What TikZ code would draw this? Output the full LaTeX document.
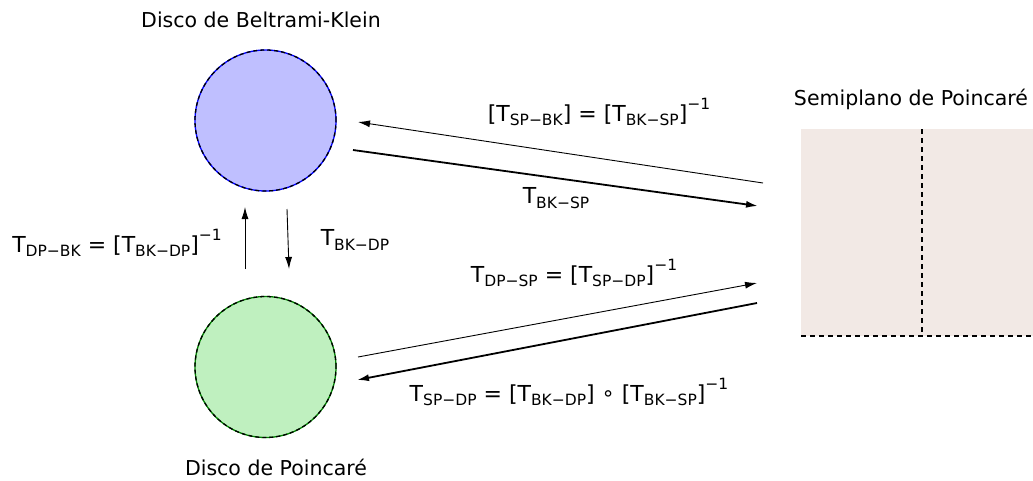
\documentclass[tikz,border=0pt]{standalone}
\usepackage{fontspec}
\setmainfont{DejaVu Sans}
\usetikzlibrary{arrows.meta}
\newcommand{\sbx}[1]{\raisebox{-0.35ex}{\fontsize{15.5}{16}\selectfont #1}}
\newcommand{\spx}[1]{\raisebox{1.0ex}{\fontsize{15.5}{16}\selectfont #1}}
\newcommand{\cmp}{\raisebox{0.05ex}{\fontsize{21}{21}\selectfont ∘}}
\definecolor{bkfill}{HTML}{BFBFFF}
\definecolor{dpfill}{HTML}{BFF0BF}
\definecolor{spfill}{HTML}{F2E9E5}
\begin{document}
\begin{tikzpicture}[x=1pt,y=-1pt,
  ttl/.style={font=\fontsize{20.5}{24}\selectfont, inner sep=0},
  lbl/.style={font=\fontsize{22}{26}\selectfont, inner sep=0},
  thinarr/.style={line width=0.9pt, -{Latex[length=12pt,width=7pt]}},
  thickarr/.style={line width=1.8pt, -{Latex[length=12pt,width=7pt]}},
  disc/.style={circle, minimum size=141pt, inner sep=0}]
\useasboundingbox (0,0) rectangle (1033,480);
% half plane
\fill[spfill] (801,129) rectangle (1033,336);
\node[inner sep=0, minimum width=232pt, minimum height=207pt] (sp) at (917,232.5) {};
\draw[line width=1.2pt, dash pattern=on 5pt off 4pt] (922,129) -- (922,336);
\draw[line width=1.2pt, dash pattern=on 5pt off 4pt] (801,336) -- (1033,336);
\node[ttl] (spt) at (911,99) {Semiplano de Poincaré};
% discs
\node[disc, fill=bkfill, draw=blue, line width=1.3pt] (bk) at (265.5,120.5) {};
\draw[line width=1.3pt, dash pattern=on 4pt off 3pt] (bk.center) circle (70.5pt);
\node[disc, fill=dpfill, draw=green!50!black, line width=1.3pt] (dp) at (265.5,367) {};
\draw[line width=1.3pt, dash pattern=on 4pt off 3pt] (dp.center) circle (70.5pt);
\node[ttl] (bkt) at (261,20) {Disco de Beltrami-Klein};
\node[ttl] (dpt) at (276,467) {Disco de Poincaré};
% connector end points
\coordinate (a1s) at (763,183); \coordinate (a1e) at (358,122);
\coordinate (a2s) at (353,150); \coordinate (a2e) at (758,206);
\coordinate (a3s) at (245,269); \coordinate (a3e) at (245,207);
\coordinate (a4s) at (287,209); \coordinate (a4e) at (289,269);
\coordinate (a5s) at (358,357); \coordinate (a5e) at (757,283);
\coordinate (a6s) at (757,303); \coordinate (a6e) at (357,380);
\draw[thinarr] (a1s) -- (a1e);
\draw[thickarr] (a2s) -- (a2e);
\draw[thinarr] (a3s) -- (a3e);
\draw[thinarr] (a4s) -- (a4e);
\draw[thinarr] (a5s) -- (a5e);
\draw[thickarr] (a6s) -- (a6e);
% labels
\node[lbl] (l1) at (599,112) {[T\sbx{SP−BK}] = [T\sbx{BK−SP}]\spx{−1}};
\node[lbl] (l2) at (556,198) {T\sbx{BK−SP}};
\node[lbl] (l3) at (117,243) {T\sbx{DP−BK} = [T\sbx{BK−DP}]\spx{−1}};
\node[lbl] (l4) at (355,240) {T\sbx{BK−DP}};
\node[lbl] (l5) at (574,273) {T\sbx{DP−SP} = [T\sbx{SP−DP}]\spx{−1}};
\node[lbl] (l6) at (569,392) {T\sbx{SP−DP} = [T\sbx{BK−DP}] \cmp{} [T\sbx{BK−SP}]\spx{−1}};
\end{tikzpicture}
\end{document}
